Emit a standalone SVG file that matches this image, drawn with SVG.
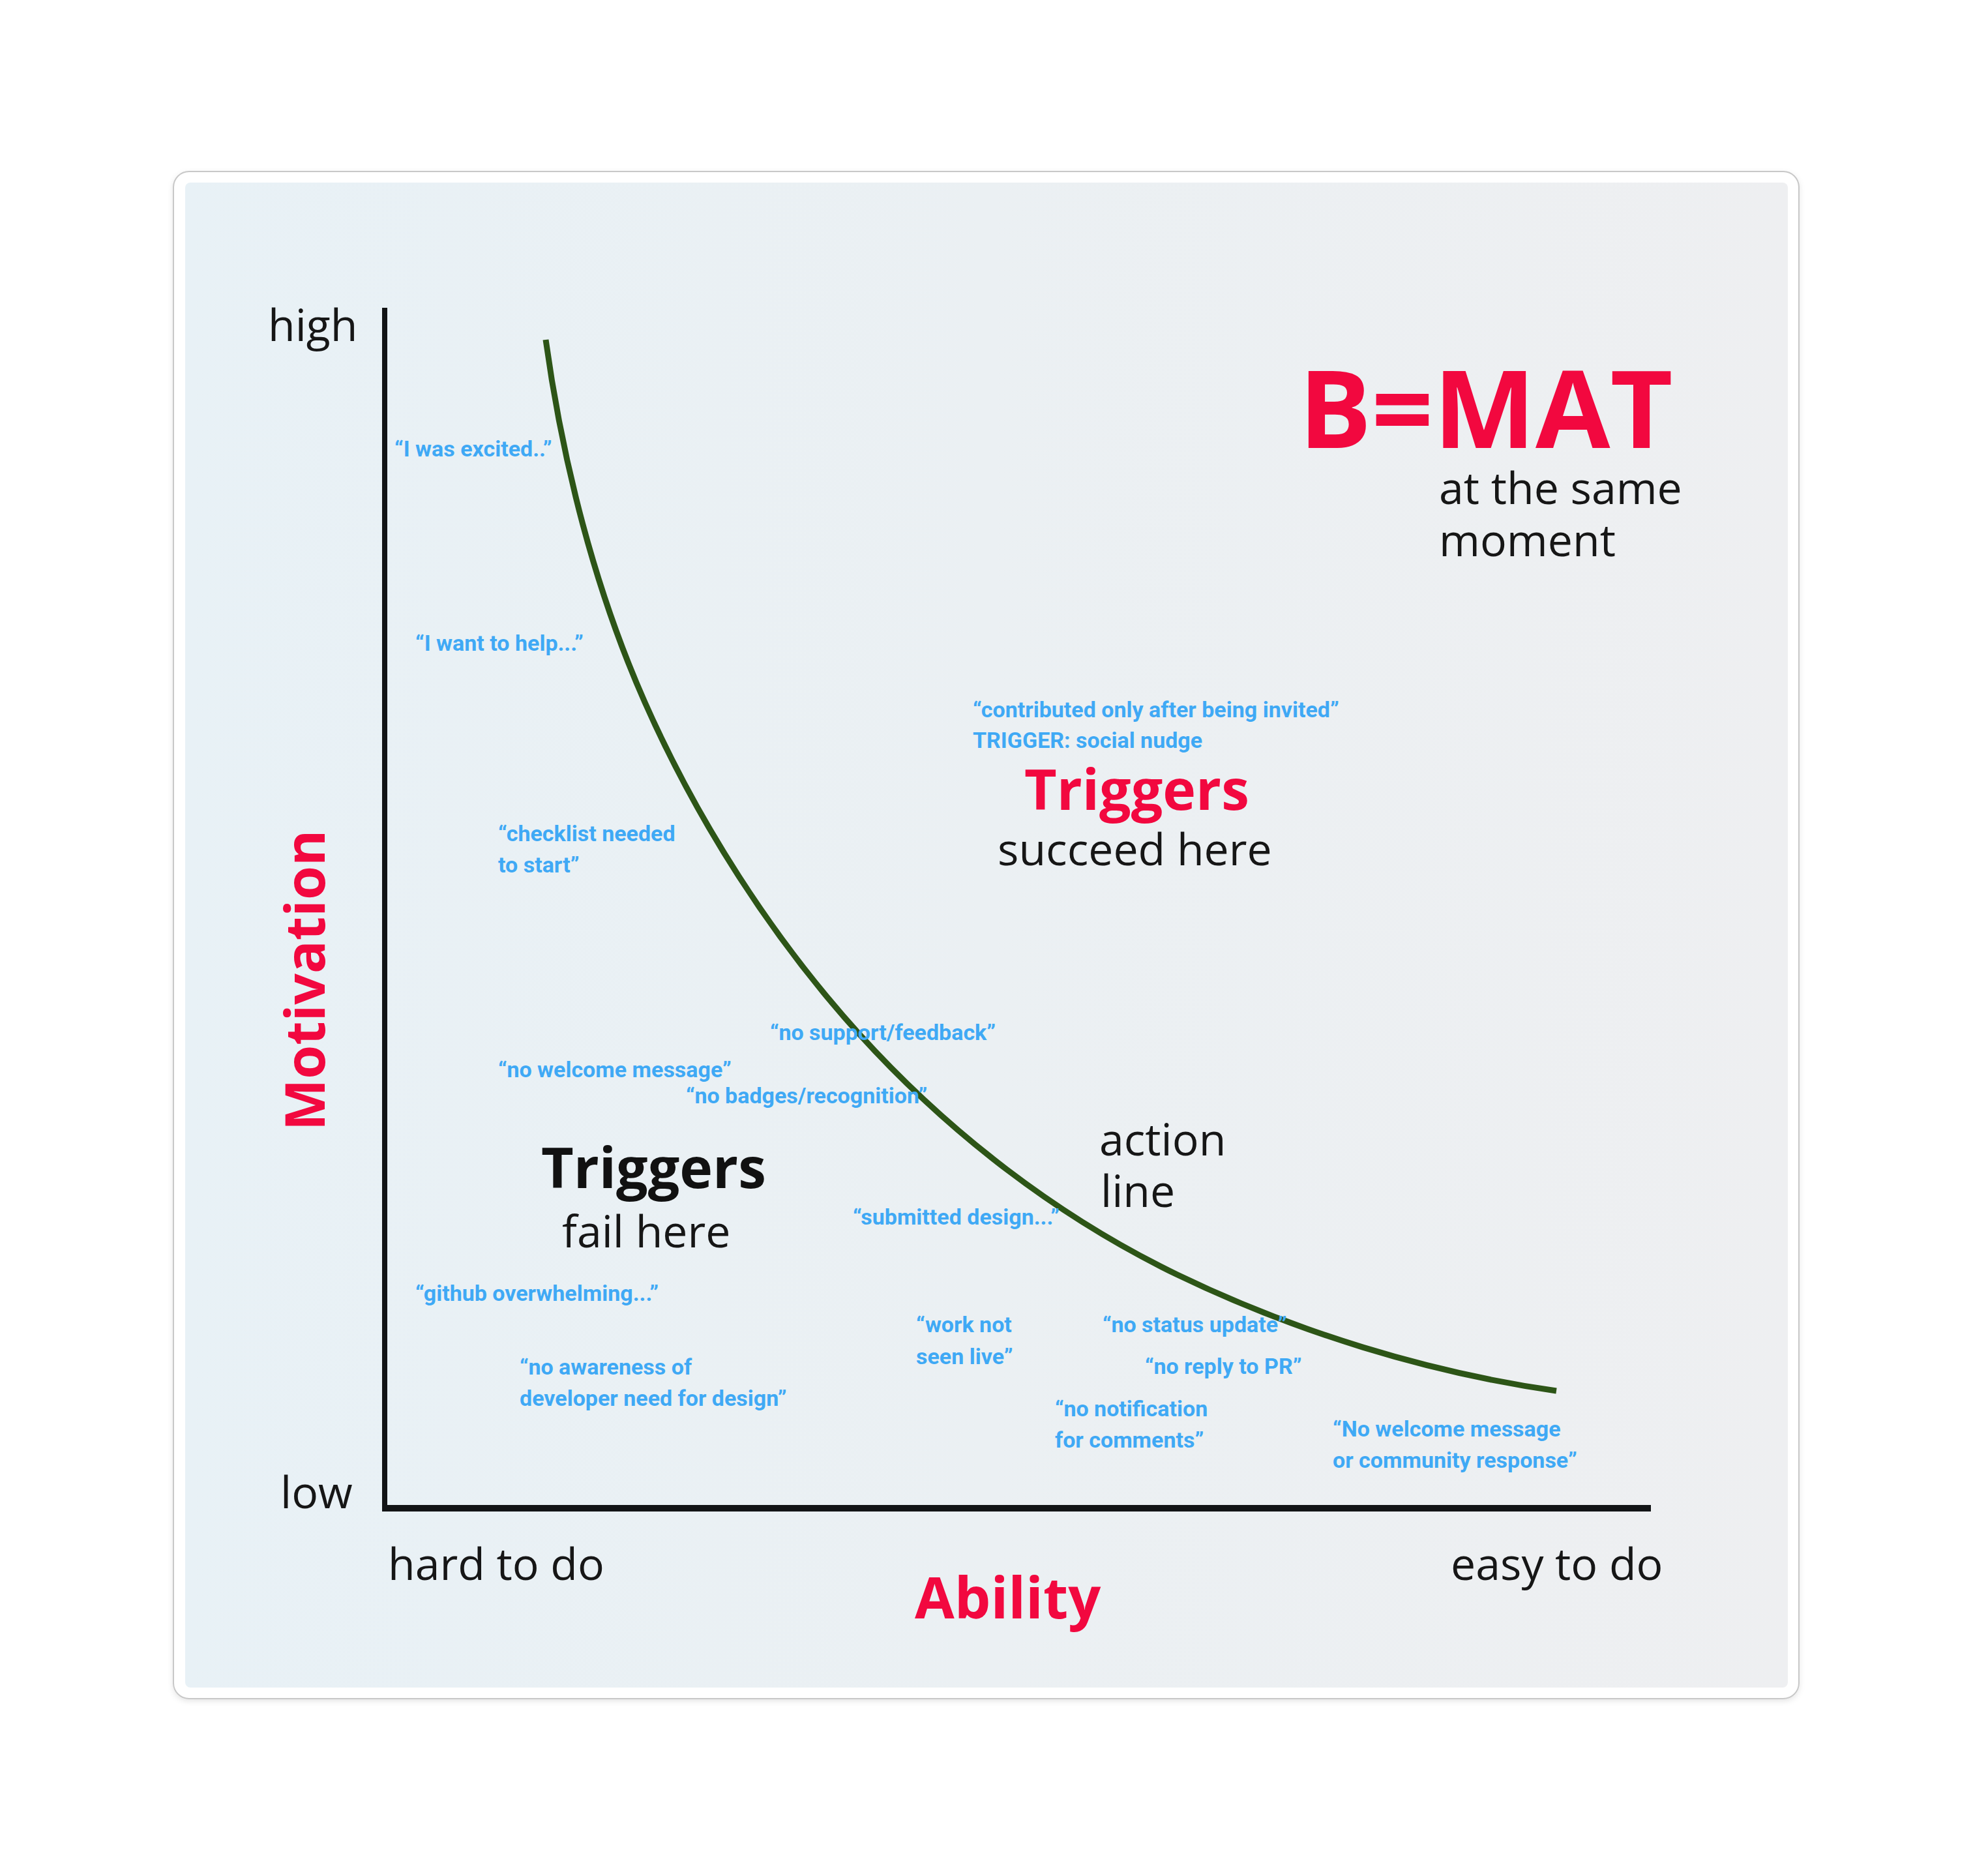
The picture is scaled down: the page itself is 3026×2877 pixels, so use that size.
<svg xmlns="http://www.w3.org/2000/svg" width="3026" height="2877" viewBox="0 0 3026 2877">
  <defs>
    <linearGradient id="panelGrad" x1="0" y1="0" x2="1" y2="0">
      <stop offset="0" stop-color="#E8F1F6"/>
      <stop offset="0.5" stop-color="#EBF0F3"/>
      <stop offset="1" stop-color="#EEEFF1"/>
    </linearGradient>
    <filter id="cardShadow" x="-5%" y="-5%" width="110%" height="110%">
      <feDropShadow dx="0" dy="3" stdDeviation="4" flood-color="#000" flood-opacity="0.10"/>
    </filter>
    <style>
      .blk { font-family: "Open Sans", "Liberation Sans", sans-serif; font-weight: 400; font-size: 68px; fill: #161616; }
      .bold { font-family: "Open Sans", "Liberation Sans", sans-serif; font-weight: 700; }
      .red { fill: #F2083F; }
      .quote { font-family: Roboto, "Liberation Sans", sans-serif; font-weight: 700; font-size: 34px; fill: #3FA9F5; }
      .axis { stroke: #121416; fill: none; }
      .action { stroke: #2D5517; stroke-width: 9; fill: none; stroke-linecap: butt; }
    </style>
  </defs>

  <rect width="3026" height="2877" fill="#FFFFFF"/>

  <g id="card">
    <rect x="266" y="263" width="2493" height="2342" rx="24" ry="24" fill="#FFFFFF" stroke="#C8C8C8" stroke-width="2" filter="url(#cardShadow)"/>
    <rect x="284" y="280" width="2458" height="2308" rx="8" ry="8" fill="url(#panelGrad)"/>
  </g>

  <g id="axes">
    <line class="axis" x1="590" y1="472" x2="590" y2="2318" stroke-width="8"/>
    <line class="axis" x1="586" y1="2313" x2="2532" y2="2313" stroke-width="10"/>
  </g>

  <g id="connectors">
    <path id="action-line" class="action" d="M837,521 C863,709 912,903 989,1077 C1070,1260 1184,1438 1318,1586 C1455,1737 1622,1866 1806,1955 C1986,2042 2190,2105 2387,2133"/>
  </g>

  <g id="axis-labels">
    <text class="blk" x="411" y="523">high</text>
    <text class="blk" x="430" y="2313">low</text>
    <text class="blk" x="595" y="2423">hard to do</text>
    <text class="blk" x="2225" y="2423">easy to do</text>
    <text class="bold red" x="1403" y="2482" font-size="88">Ability</text>
    <text class="bold red" transform="translate(498,1734) rotate(-90)" font-size="84">Motivation</text>
  </g>

  <g id="bmat">
    <text class="bold red" x="1992" y="687" font-size="166" font-weight="800">B=MAT</text>
    <text class="blk" x="2207" y="773">at the same</text>
    <text class="blk" x="2207" y="853">moment</text>
  </g>

  <g id="triggers-succeed">
    <text class="bold red" x="1571" y="1242" font-size="86">Triggers</text>
    <text class="blk" x="1530" y="1327">succeed here</text>
  </g>

  <g id="triggers-fail">
    <text class="bold" x="830" y="1822" font-size="86" fill="#111111">Triggers</text>
    <text class="blk" x="862" y="1913">fail here</text>
  </g>

  <g id="action-label">
    <text class="blk" x="1686" y="1772">action</text>
    <text class="blk" x="1688" y="1851">line</text>
  </g>

  <g id="quotes">
    <g id="q-excited"><text class="quote" x="605" y="700">“I was excited..”</text></g>
    <g id="q-help"><text class="quote" x="637" y="998">“I want to help...”</text></g>
    <g id="q-invited">
      <text class="quote" x="1492" y="1100">“contributed only after being invited”</text>
      <text class="quote" x="1492" y="1147">TRIGGER: social nudge</text>
    </g>
    <g id="q-checklist">
      <text class="quote" x="764" y="1290">“checklist needed</text>
      <text class="quote" x="764" y="1338">to start”</text>
    </g>
    <g id="q-support"><text class="quote" x="1181" y="1595">“no support/feedback”</text></g>
    <g id="q-welcome"><text class="quote" x="764" y="1652">“no welcome message”</text></g>
    <g id="q-badges"><text class="quote" x="1052" y="1692">“no badges/recognition”</text></g>
    <g id="q-submitted"><text class="quote" x="1308" y="1878">“submitted design...”</text></g>
    <g id="q-github"><text class="quote" x="637" y="1995">“github overwhelming...”</text></g>
    <g id="q-awareness">
      <text class="quote" x="797" y="2108">“no awareness of</text>
      <text class="quote" x="797" y="2156">developer need for design”</text>
    </g>
    <g id="q-work">
      <text class="quote" x="1405" y="2043">“work not</text>
      <text class="quote" x="1405" y="2092">seen live”</text>
    </g>
    <g id="q-status"><text class="quote" x="1691" y="2043">“no status update”</text></g>
    <g id="q-reply"><text class="quote" x="1756" y="2107">“no reply to PR”</text></g>
    <g id="q-notification">
      <text class="quote" x="1618" y="2172">“no notification</text>
      <text class="quote" x="1618" y="2220">for comments”</text>
    </g>
    <g id="q-community">
      <text class="quote" x="2044" y="2203">“No welcome message</text>
      <text class="quote" x="2044" y="2251">or community response”</text>
    </g>
  </g>
</svg>
